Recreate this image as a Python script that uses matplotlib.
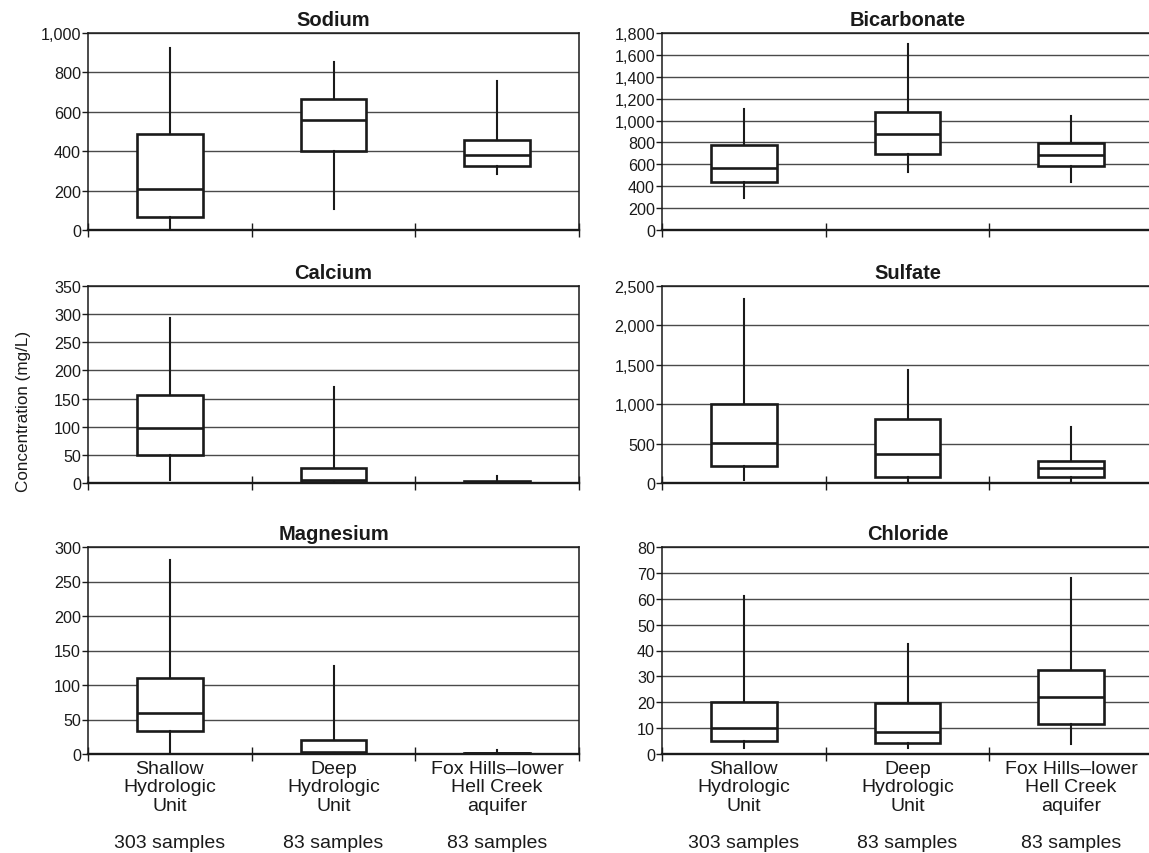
import matplotlib
matplotlib.use('Agg')
import matplotlib.pyplot as plt
from matplotlib.ticker import FuncFormatter, MultipleLocator

plt.rcParams['font.family'] = ['Liberation Sans', 'DejaVu Sans']

# groups along the x axis
categories = ['Shallow\nHydrologic\nUnit', 'Deep\nHydrologic\nUnit', 'Fox Hills\u2013lower\nHell Creek\naquifer']
samples = ['303 samples', '83 samples', '83 samples']

# each row: [whisker low, Q1, median, Q3, whisker high] in mg/L
sodium = [[12, 68, 207, 487, 922], [107, 399, 559, 667, 854], [284, 324, 382, 455, 754]]
bicarbonate = [[290, 440, 562, 773, 1109], [529, 697, 874, 1076, 1696], [437, 584, 688, 795, 1042]]
calcium = [[5, 50, 97, 157, 294], [0, 1, 5, 27, 170], [0, 0.5, 1, 3, 12]]
sulfate = [[33, 218, 503, 1005, 2337], [0, 80, 373, 808, 1428], [12, 80, 188, 281, 712]]
magnesium = [[0, 33, 59, 110, 281], [0, 1, 3, 21, 128], [0, 0.5, 1, 2, 6]]
chloride = [[2.2, 5.2, 10, 20, 61], [2.2, 4.3, 8.5, 19.6, 42.7], [3.8, 11.5, 22.2, 32.4, 67.9]]

titles = ['Sodium', 'Bicarbonate', 'Calcium', 'Sulfate', 'Magnesium', 'Chloride']
panels = [sodium, bicarbonate, calcium, sulfate, magnesium, chloride]
ymax = [1000, 1800, 350, 2500, 300, 80]
ystep = [200, 200, 50, 500, 50, 10]

W, H = 1149, 854
fig = plt.figure(figsize=(W / 100, H / 100), dpi=100)

# axes boxes in pixels: (left, top, bottom)
lefts = [88, 662]
rows = [(34, 231), (287, 484), (548, 755)]
width = 491
ink = '#1a1a1a'

for i, (name, data) in enumerate(zip(titles, panels)):
    r, c = divmod(i, 2)
    top, bot = rows[r]
    ax = fig.add_axes([lefts[c] / W, 1 - bot / H, width / W, (bot - top) / H])

    stats = [dict(whislo=d[0], q1=d[1], med=d[2], q3=d[3], whishi=d[4]) for d in data]
    ax.bxp(stats, positions=range(3), widths=0.4, showcaps=False, showfliers=False,
           patch_artist=True,
           boxprops=dict(facecolor='white', edgecolor=ink, linewidth=1.9),
           medianprops=dict(color=ink, linewidth=1.9),
           whiskerprops=dict(color=ink, linewidth=1.5),
           zorder=3)

    ax.set_xlim(-0.5, 2.5)
    ax.set_ylim(0, ymax[i])
    ax.yaxis.set_major_locator(MultipleLocator(ystep[i]))
    ax.yaxis.set_major_formatter(FuncFormatter(lambda v, p: f'{v:,.0f}'))
    ax.grid(axis='y', color='#4a4a4a', linewidth=1.0, zorder=0)
    ax.set_axisbelow(True)

    ax.set_xticks([-0.5, 0.5, 1.5, 2.5])
    ax.set_xticklabels([])
    ax.tick_params(axis='x', which='major', direction='inout', length=10, width=1, color=ink)
    ax.tick_params(axis='y', direction='out', length=4, width=1, color=ink,
                   labelsize=11.6, pad=1, labelcolor=ink)
    for s in ax.spines.values():
        s.set_color(ink)
        s.set_linewidth(1.1)
    ax.spines['bottom'].set_linewidth(1.7)

    ax.set_title(name, fontsize=14.5, fontweight='bold', color=ink, pad=6)

    if r == 2:
        ax.set_xticks(range(3), minor=True)
        ax.set_xticklabels(categories, minor=True, fontsize=14, color=ink, linespacing=1.12)
        ax.tick_params(axis='x', which='minor', length=0, pad=4)
        for k, s in enumerate(samples):
            ax.annotate(s, xy=(k, 0), xycoords=('data', 'axes fraction'),
                        xytext=(0, -64), textcoords='offset points',
                        ha='center', va='center', fontsize=14, color=ink)

fig.text(24 / W, 1 - 411 / H, 'Concentration (mg/L)', rotation=90, ha='center', va='center',
         fontsize=12.3, color=ink)

fig.savefig('out.png', dpi=100)
